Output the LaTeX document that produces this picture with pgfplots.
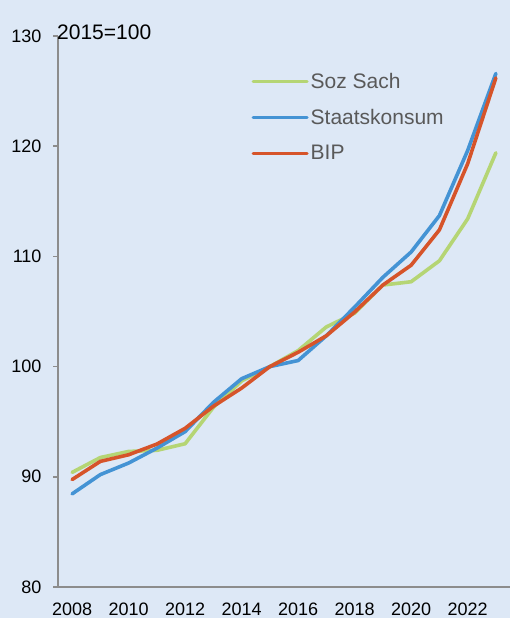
\documentclass[border=0pt]{standalone}
\usepackage{fontspec}
\setmainfont{Liberation Sans}
\usepackage{pgfplots}
\pgfplotsset{compat=1.18}
\usetikzlibrary{backgrounds, calc}

\definecolor{bgblue}{HTML}{DDE8F6}
\definecolor{sozgreen}{HTML}{B5D574}
\definecolor{staatblue}{HTML}{4493D4}
\definecolor{bipred}{HTML}{D6542A}
\definecolor{axisgray}{HTML}{8C8C8C}
\definecolor{legtext}{HTML}{595959}

\begin{document}
\begin{tikzpicture}
\begin{axis}[
    name=ax,
    scale only axis,
    width=452pt, height=551pt,
    xmin=2007.5, xmax=2023.5,
    ymin=80, ymax=130,
    axis x line*=bottom, axis y line*=left,
    axis line style={axisgray, line width=1.8pt, -},
    xtick={2008,2010,...,2022},
    ytick={80,90,...,130},
    major x tick style={draw=none},
    major y tick style={axisgray, line width=1.5pt},
    tick align=outside,
    major tick length=5pt,
    /pgf/number format/assume math mode=true,
    x tick label style={/pgf/number format/1000 sep={}, font=\fontsize{18}{20}\selectfont, yshift=-7pt},
    y tick label style={font=\fontsize{18}{20}\selectfont, xshift=-8pt},
    clip=false,
    legend cell align=left,
    legend style={at={(rel axis cs:0.428,0.937)}, anchor=north west,
        draw=none, fill=none, font=\fontsize{21}{24}\selectfont\color{legtext},
        row sep=15.5pt, inner sep=0pt,
        /tikz/every even column/.append style={column sep=0pt}},
    legend image code/.code={\draw[#1, line width=3pt, line cap=round] (0pt,0pt) -- (54pt,0pt);},
    every axis plot/.append style={line width=3.6pt, line join=round, line cap=round},
]
\addplot[sozgreen] coordinates {
 (2008,90.4) (2009,91.75) (2010,92.3) (2011,92.4) (2012,93.0) (2013,96.3)
 (2014,98.7) (2015,100.0) (2016,101.45) (2017,103.6) (2018,104.85) (2019,107.4)
 (2020,107.7) (2021,109.6) (2022,113.4) (2023,119.4)};
\addlegendentry{Soz Sach}
\addplot[staatblue] coordinates {
 (2008,88.45) (2009,90.2) (2010,91.25) (2011,92.6) (2012,94.1) (2013,96.75)
 (2014,98.9) (2015,100.0) (2016,100.55) (2017,102.8) (2018,105.4) (2019,108.1)
 (2020,110.4) (2021,113.7) (2022,119.6) (2023,126.6)};
\addlegendentry{Staatskonsum}
\addplot[bipred] coordinates {
 (2008,89.75) (2009,91.4) (2010,92.0) (2011,92.97) (2012,94.4) (2013,96.4)
 (2014,98.05) (2015,100.0) (2016,101.3) (2017,102.8) (2018,104.95) (2019,107.4)
 (2020,109.2) (2021,112.4) (2022,118.4) (2023,126.2)};
\addlegendentry{BIP}
\end{axis}
\node[anchor=base west, inner sep=0pt, font=\fontsize{21}{24}\selectfont]
    at ($(ax.north west)+(-1pt,-4pt)$) {2015=100};
\begin{pgfonlayer}{background}
\fill[bgblue] ($(ax.south west)+(-58pt,-31pt)$) rectangle ($(ax.north east)+(0pt,36pt)$);
\end{pgfonlayer}
\pgfresetboundingbox
\path[use as bounding box] ($(ax.south west)+(-58pt,-31pt)$) rectangle ($(ax.north east)+(0pt,36pt)$);
\end{tikzpicture}
\end{document}
